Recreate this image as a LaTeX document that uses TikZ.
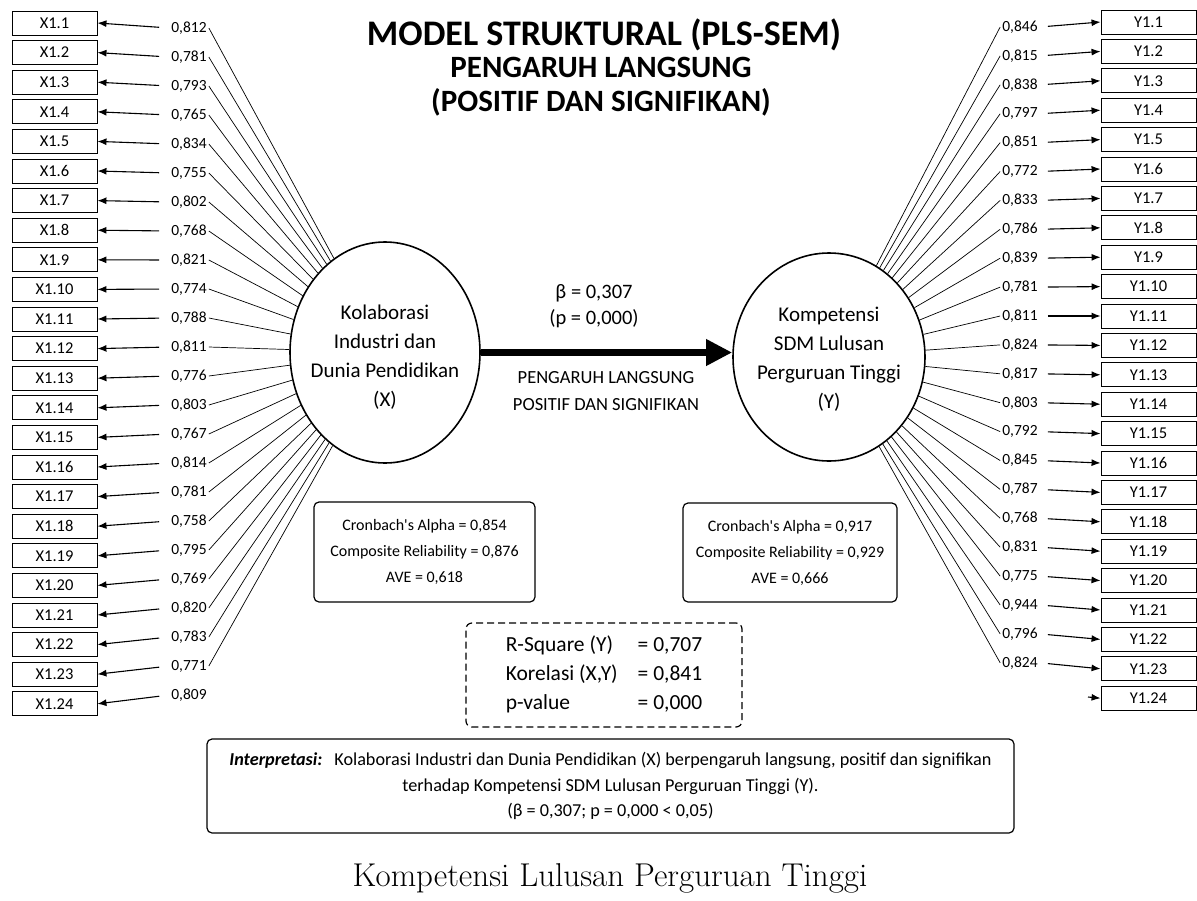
\documentclass[tikz,border=0pt]{standalone}
\usepackage{fontspec}
\newfontfamily\diagfont{Carlito}
\usetikzlibrary{arrows,arrows.meta,calc,shapes}

\newcommand\fs[2]{\diagfont\fontsize{#1}{#2}\selectfont}

\tikzset{
  ind/.style={draw, line width=0.9pt, minimum width=85pt, minimum height=24pt, inner sep=0pt, font=\fs{16.5}{20}},
  ld/.style={inner sep=2pt, font=\fs{15.5}{19}},
  lv/.style={draw, ellipse, line width=1.6pt, inner sep=0pt},
  lvtext/.style={align=center, font=\fs{21}{29}},
  rel/.style={draw, line width=1.2pt, rounded corners=5pt, align=center, font=\fs{16}{26}},
  ldarrow/.style={line width=1.1pt, -{Latex[length=9pt,width=7pt]}},
  ldline/.style={line width=0.7pt},
}

\begin{document}
\begin{tikzpicture}[x=1pt, y=-1pt]
  \useasboundingbox[fill=white] (0,0) rectangle (1197,900);
  % title
  \node[font=\fs{36}{40}\bfseries] (title) at (604,35) {MODEL STRUKTURAL (PLS-SEM)};
  \node[font=\fs{31}{34}\bfseries, align=center] (subtitle) at (601,87) {PENGARUH LANGSUNG\\(POSITIF DAN SIGNIFIKAN)};

  % latent variables
  \node[lv, minimum width=190pt, minimum height=221pt] (X) at (385,352.5) {};
  \node[lvtext] (Xtext) at (385,357) {Kolaborasi\\Industri dan\\Dunia Pendidikan\\(X)};
  \node[lv, minimum width=192pt, minimum height=208pt] (Y) at (829,357) {};
  \node[lvtext] (Ytext) at (829,359) {Kompetensi\\SDM Lulusan\\Perguruan Tinggi\\(Y)};

  \draw[line width=7pt, -{Triangle[length=26pt,width=25pt]}] (X.east) -- (X.east -| Y.west);
  \node[font=\fs{20.5}{26}, align=center] (beta) at (594,306) {β = 0,307\\(p = 0,000)};
  \node[font=\fs{18.5}{27}, align=center] (effect) at (606,391) {PENGARUH LANGSUNG\\POSITIF DAN SIGNIFIKAN};

  % indicators X
  \foreach \v [count=\i] in {{0,812},{0,781},{0,793},{0,765},{0,834},{0,755},{0,802},{0,768},
      {0,821},{0,774},{0,788},{0,811},{0,776},{0,803},{0,767},{0,814},{0,781},{0,758},
      {0,795},{0,769},{0,820},{0,783},{0,771},{0,809}} {
    \node[ind] (x\i) at (54.5,{23+(\i-1)*29.6}) {X1.\i};
    \node[ld] (lx\i) at (189,{28+(\i-1)*29}) {\v};
    \draw[ldarrow, shorten <=10pt] (lx\i.west) -- (x\i.east);
  }
  \foreach \i in {1,...,23}
    \draw[ldline] (lx\i.east) -- (X);

  % indicators Y
  \foreach \v [count=\i] in {{0,846},{0,815},{0,838},{0,797},{0,851},{0,772},{0,833},{0,786},
      {0,839},{0,781},{0,811},{0,824},{0,817},{0,803},{0,792},{0,845},{0,787},{0,768},
      {0,831},{0,775},{0,944},{0,796},{0,824}}
    \node[ld] (ly\i) at (1020,{27+(\i-1)*28.9}) {\v};
  \foreach \i in {1,...,24}
    \node[ind, minimum width=95pt] (y\i) at (1148.5,{22+(\i-1)*29.4}) {Y1.\i};
  \foreach \i in {1,...,23} {
    \draw[ldarrow, shorten <=8pt] (ly\i.east) -- (y\i.west);
    \draw[ldline] (ly\i.west) -- (Y);
  }
  \coordinate (stub) at (1088,697);
  \draw[ldarrow] (stub) -- (y24.west);

  % reliability
  \node[rel, minimum width=221pt, minimum height=100pt] (relX) at (424.5,552)
    {Cronbach's Alpha = 0,854\\Composite Reliability = 0,876\\AVE = 0,618};
  \node[rel, minimum width=214pt, minimum height=99pt] (relY) at (790,552.5)
    {Cronbach's Alpha = 0,917\\Composite Reliability = 0,929\\AVE = 0,666};

  \node[draw, line width=1.2pt, dash pattern=on 7pt off 4pt, rounded corners=6pt,
    minimum width=276pt, minimum height=104pt, font=\fs{21.5}{29}] (rsq) at (604,675)
    {\begin{tabular}{@{}l@{\hspace{20pt}}l@{}}R-Square (Y) & = 0,707\\Korelasi (X,Y) & = 0,841\\p-value & = 0,000\end{tabular}};

  \node[rel, minimum width=807pt, minimum height=94pt, font=\fs{18.2}{25.5}] (interp) at (610.5,786)
    {\textbf{\textit{Interpretasi:}}\hspace{12pt}Kolaborasi Industri dan Dunia Pendidikan (X) berpengaruh langsung, positif dan signifikan\\
     terhadap Kompetensi SDM Lulusan Perguruan Tinggi (Y).\\(β = 0,307; p = 0,000 < 0,05)};

  \node[font=\fontsize{33}{36}\selectfont, anchor=base] (caption) at (610,886) {Kompetensi Lulusan Perguruan Tinggi};
\end{tikzpicture}
\end{document}
